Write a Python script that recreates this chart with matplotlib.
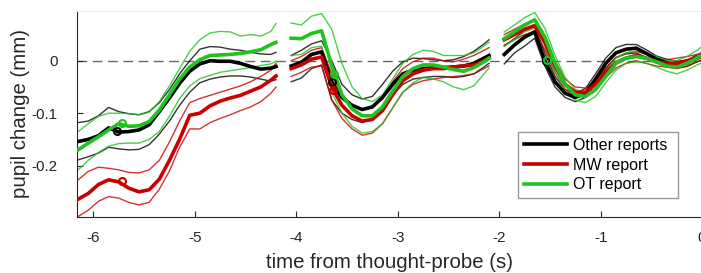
import numpy as np
import matplotlib.pyplot as plt

plt.rcParams['font.family'] = ['Liberation Sans', 'DejaVu Sans']

# time samples (s) for the three epochs
t1 = [-6.15, -6.05, -5.95, -5.85, -5.75, -5.65, -5.55, -5.45, -5.35, -5.25, -5.15,
      -5.05, -4.95, -4.85, -4.75, -4.65, -4.55, -4.45, -4.35, -4.25, -4.2]
t2 = [-4.05, -3.95, -3.85, -3.75, -3.65, -3.55, -3.45, -3.35, -3.25, -3.15, -3.05,
      -2.95, -2.85, -2.75, -2.65, -2.55, -2.45, -2.35, -2.25, -2.15, -2.1]
t3 = [-1.95, -1.85, -1.75, -1.65, -1.55, -1.45, -1.35, -1.25, -1.15, -1.05, -0.95,
      -0.85, -0.75, -0.65, -0.55, -0.45, -0.35, -0.25, -0.15, -0.05, 0.05]

# Other reports (black)
other_mean = [
    -0.154, -0.150, -0.143, -0.128, -0.136, -0.135, -0.132, -0.122, -0.097, -0.071, -0.043,
    -0.020, -0.006, 0.0, -0.001, -0.001, -0.005, -0.011, -0.016, -0.014, -0.011,
    -0.010, -0.003, 0.012, 0.017, -0.040, -0.070, -0.085, -0.093, -0.088, -0.070, -0.045,
    -0.025, -0.018, -0.015, -0.013, -0.013, -0.012, -0.010, -0.005, 0.005, 0.010,
    0.012, 0.030, 0.045, 0.055, 0.0, -0.040, -0.062, -0.070, -0.062, -0.035, -0.005,
    0.015, 0.022, 0.024, 0.014, 0.003, -0.004, -0.007, -0.004, 0.005, 0.012]
other_hi = [
    -0.118, -0.115, -0.105, -0.089, -0.097, -0.101, -0.103, -0.097, -0.080, -0.055, -0.025,
    0.0, 0.022, 0.027, 0.026, 0.022, 0.020, 0.016, 0.013, 0.012, 0.016,
    0.010, 0.020, 0.032, 0.038, 0.0, -0.045, -0.065, -0.073, -0.068, -0.045, -0.020,
    -0.002, 0.005, 0.004, 0.002, 0.0, 0.002, 0.008, 0.018, 0.032, 0.040,
    0.028, 0.042, 0.058, 0.065, 0.015, -0.030, -0.055, -0.062, -0.053, -0.025, 0.005,
    0.025, 0.031, 0.031, 0.021, 0.009, 0.003, -0.001, 0.001, 0.011, 0.020]
other_lo = [
    -0.189, -0.183, -0.176, -0.165, -0.168, -0.170, -0.169, -0.160, -0.140, -0.115, -0.085,
    -0.060, -0.042, -0.035, -0.031, -0.029, -0.029, -0.031, -0.035, -0.039, -0.036,
    -0.040, -0.033, -0.015, -0.008, -0.075, -0.100, -0.112, -0.118, -0.110, -0.090, -0.065,
    -0.045, -0.035, -0.032, -0.030, -0.030, -0.032, -0.030, -0.025, -0.012, -0.005,
    -0.006, 0.015, 0.028, 0.043, -0.010, -0.050, -0.070, -0.078, -0.070, -0.045, -0.015,
    0.006, 0.013, 0.015, 0.006, -0.004, -0.011, -0.014, -0.011, -0.002, 0.005]

# MW report (red)
mw_mean = [
    -0.264, -0.253, -0.236, -0.227, -0.231, -0.243, -0.250, -0.246, -0.226, -0.190, -0.150,
    -0.104, -0.100, -0.086, -0.077, -0.071, -0.066, -0.058, -0.050, -0.037, -0.029,
    -0.015, -0.008, 0.003, 0.007, -0.050, -0.085, -0.105, -0.115, -0.112, -0.095, -0.065,
    -0.038, -0.025, -0.018, -0.015, -0.015, -0.012, -0.010, -0.008, 0.0, 0.005,
    0.040, 0.050, 0.060, 0.067, 0.035, -0.010, -0.045, -0.060, -0.060, -0.045, -0.022,
    -0.004, 0.005, 0.010, 0.005, -0.002, -0.005, -0.005, 0.0, 0.005, 0.010]
mw_hi = [
    -0.227, -0.211, -0.203, -0.205, -0.208, -0.213, -0.214, -0.208, -0.190, -0.155, -0.115,
    -0.080, -0.072, -0.066, -0.060, -0.054, -0.048, -0.040, -0.030, -0.018, -0.005,
    0.0, 0.008, 0.020, 0.025, -0.025, -0.065, -0.085, -0.093, -0.090, -0.070, -0.040,
    -0.015, -0.002, 0.005, 0.005, 0.0, -0.002, 0.003, 0.010, 0.020, 0.025,
    0.050, 0.060, 0.070, 0.078, 0.048, 0.0, -0.035, -0.050, -0.052, -0.038, -0.013,
    0.006, 0.015, 0.018, 0.012, 0.005, 0.002, 0.005, 0.008, 0.012, 0.018]
mw_lo = [
    -0.297, -0.285, -0.268, -0.259, -0.262, -0.270, -0.275, -0.270, -0.245, -0.210, -0.165,
    -0.130, -0.130, -0.118, -0.110, -0.103, -0.095, -0.088, -0.078, -0.062, -0.050,
    -0.030, -0.022, -0.012, -0.010, -0.075, -0.110, -0.130, -0.142, -0.138, -0.120, -0.090,
    -0.060, -0.045, -0.038, -0.035, -0.032, -0.030, -0.028, -0.025, -0.015, -0.010,
    0.030, 0.040, 0.050, 0.056, 0.022, -0.022, -0.055, -0.068, -0.068, -0.055, -0.032,
    -0.014, -0.005, 0.0, -0.005, -0.010, -0.012, -0.015, -0.010, -0.002, 0.003]

# OT report (green)
ot_mean = [
    -0.170, -0.157, -0.145, -0.132, -0.120, -0.125, -0.124, -0.116, -0.094, -0.065, -0.035,
    -0.012, 0.002, 0.010, 0.011, 0.012, 0.014, 0.017, 0.021, 0.031, 0.035,
    0.043, 0.042, 0.052, 0.057, -0.010, -0.065, -0.092, -0.105, -0.105, -0.088, -0.058,
    -0.030, -0.015, -0.008, -0.008, -0.012, -0.017, -0.020, -0.013, -0.002, 0.005,
    0.042, 0.055, 0.068, 0.078, 0.045, -0.005, -0.045, -0.065, -0.068, -0.055, -0.030,
    -0.005, 0.005, 0.008, 0.005, -0.002, -0.010, -0.012, -0.005, 0.005, 0.015]
ot_hi = [
    -0.135, -0.120, -0.106, -0.100, -0.100, -0.101, -0.103, -0.098, -0.078, -0.048, -0.015,
    0.018, 0.040, 0.053, 0.056, 0.055, 0.047, 0.050, 0.047, 0.056, 0.071,
    0.072, 0.068, 0.085, 0.090, 0.060, -0.005, -0.050, -0.072, -0.078, -0.065, -0.035,
    -0.005, 0.012, 0.020, 0.018, 0.010, 0.010, 0.010, 0.015, 0.028, 0.035,
    0.055, 0.068, 0.082, 0.092, 0.062, 0.010, -0.032, -0.055, -0.060, -0.045, -0.020,
    0.005, 0.015, 0.018, 0.015, 0.008, 0.0, 0.0, 0.008, 0.020, 0.035]
ot_lo = [
    -0.208, -0.190, -0.175, -0.163, -0.158, -0.157, -0.157, -0.150, -0.135, -0.106, -0.072,
    -0.048, -0.034, -0.028, -0.022, -0.019, -0.016, -0.013, -0.009, -0.006, -0.001,
    0.010, 0.012, 0.025, 0.028, -0.060, -0.100, -0.125, -0.138, -0.135, -0.120, -0.090,
    -0.060, -0.042, -0.032, -0.035, -0.040, -0.050, -0.055, -0.048, -0.025, -0.014,
    0.028, 0.040, 0.055, 0.062, 0.030, -0.020, -0.058, -0.075, -0.080, -0.068, -0.042,
    -0.018, -0.005, -0.002, -0.005, -0.012, -0.020, -0.025, -0.018, -0.008, 0.0]

# open-circle markers on the mean traces
other_mark_t = [-5.77, -3.65, -1.54]
other_mark_v = [-0.134, -0.040, 0.0]
mw_mark_t = [-5.72, -3.64]
mw_mark_v = [-0.230, -0.055]
ot_mark_t = [-5.72, -3.63, -1.53]
ot_mark_v = [-0.119, -0.025, 0.002]

labels = ['Other reports', 'MW report', 'OT report']
colors = ['#000000', '#c80000', '#1ec31e']

t = t1 + t2 + t3
n1, n2 = len(t1), len(t1) + len(t2)
segs = [slice(0, n1), slice(n1, n2), slice(n2, len(t))]

fig = plt.figure(figsize=(7.01, 2.73), dpi=100)
ax = fig.add_axes([0.110, 0.205, 0.8916, 0.755])

ax.axhline(0, color='#666666', lw=1.0, ls=(0, (7, 4)), zorder=1)

groups = [(other_mean, other_hi, other_lo, other_mark_t, other_mark_v),
          (mw_mean, mw_hi, mw_lo, mw_mark_t, mw_mark_v),
          (ot_mean, ot_hi, ot_lo, ot_mark_t, ot_mark_v)]
tt = np.array(t)
for (m, hi, lo, mt, mv), c, lab in zip(groups, colors, labels):
    m, hi, lo = np.array(m), np.array(hi), np.array(lo)
    for k, s in enumerate(segs):
        ax.plot(tt[s], hi[s], color=c, lw=1.0, alpha=0.8, zorder=2)
        ax.plot(tt[s], lo[s], color=c, lw=1.0, alpha=0.8, zorder=2)
        ax.plot(tt[s], m[s], color=c, lw=2.6, zorder=3,
                label=lab if k == 0 else None)
    ax.plot(mt, mv, 'o', mfc='none', mec=c, mew=1.5, ms=5, zorder=4)

ax.set_xlim(-6.16, 0)
ax.set_ylim(-0.298, 0.095)
ax.set_xticks([-6, -5, -4, -3, -2, -1, 0])
ax.set_xticklabels(['-6', '-5', '-4', '-3', '-2', '-1', '0'])
ax.set_yticks([-0.2, -0.1, 0])
ax.set_yticklabels(['-0.2', '-0.1', '0'])
ax.tick_params(direction='in', length=4, labelsize=11, colors='#262626')
ax.tick_params(axis='x', pad=10)
ax.tick_params(axis='y', pad=14)
for side in ['left', 'bottom']:
    ax.spines[side].set_color('#262626')
    ax.spines[side].set_linewidth(0.8)
ax.spines['right'].set_visible(False)
ax.spines['top'].set_color('#eeeeee')

ax.set_xlabel('time from thought-probe (s)', fontsize=14.7, color='#262626', labelpad=6)
ax.set_ylabel('pupil change (mm)', fontsize=14.7, color='#262626', labelpad=1)

leg = ax.legend(loc='lower left', bbox_to_anchor=(0.706, 0.092, 0.256, 0.316),
                mode='expand', fontsize=11.5, handlelength=2.7, handletextpad=0.35,
                borderpad=0.35, labelspacing=0.3, fancybox=False, framealpha=1,
                borderaxespad=0)
leg.get_frame().set_edgecolor('#999999')
leg.get_frame().set_linewidth(1.0)

fig.savefig('out.png', dpi=100)
